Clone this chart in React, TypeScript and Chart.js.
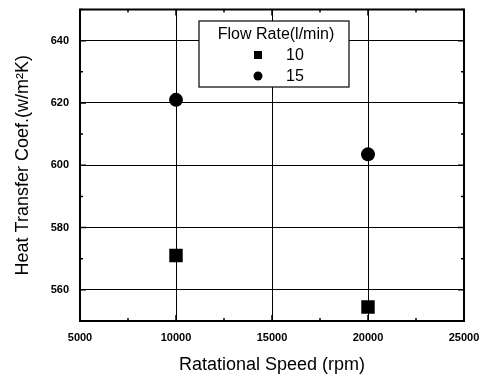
import React, { useEffect, useRef } from "react";
import { Chart, registerables } from "chart.js";

Chart.register(...registerables);

const legendTitle = "Flow Rate(l/min)";
const seriesLabels = ["10", "15"];
const speeds10 = [10000, 20000];
const values10 = [571, 554.5];
const speeds15 = [10000, 20000];
const values15 = [621, 603.5];
const xTitle = "Ratational Speed (rpm)";
const yTitle = "Heat Transfer Coef.(w/m\u00B2K)";

const FONT = "'Liberation Sans', Arial, sans-serif";

const innerTicks = {
  id: "innerTicks",
  afterDatasetsDraw(chart: any) {
    const { ctx, chartArea } = chart;
    const xs = chart.scales.x;
    const ys = chart.scales.y;
    ctx.save();
    ctx.strokeStyle = "#000";
    ctx.lineWidth = 1.5;
    for (let v = 5000; v <= 25000; v += 2500) {
      const px = xs.getPixelForValue(v);
      const len = v % 5000 === 0 ? 6 : 3;
      ctx.beginPath();
      ctx.moveTo(px, chartArea.bottom);
      ctx.lineTo(px, chartArea.bottom - len);
      ctx.moveTo(px, chartArea.top);
      ctx.lineTo(px, chartArea.top + len);
      ctx.stroke();
    }
    for (let v = 550; v <= 650; v += 10) {
      const py = ys.getPixelForValue(v);
      const len = v % 20 === 0 ? 6 : 3;
      ctx.beginPath();
      ctx.moveTo(chartArea.left, py);
      ctx.lineTo(chartArea.left + len, py);
      ctx.moveTo(chartArea.right, py);
      ctx.lineTo(chartArea.right - len, py);
      ctx.stroke();
    }
    ctx.lineWidth = 2;
    ctx.strokeRect(chartArea.left, chartArea.top, chartArea.right - chartArea.left, chartArea.bottom - chartArea.top);
    ctx.restore();
  },
};

const boxLegend = {
  id: "boxLegend",
  afterDraw(chart: any) {
    const { ctx } = chart;
    const x0 = 199, y0 = 21, w = 150, h = 66;
    ctx.save();
    ctx.fillStyle = "#fff";
    ctx.fillRect(x0, y0, w, h);
    ctx.strokeStyle = "#000";
    ctx.lineWidth = 1.2;
    ctx.strokeRect(x0, y0, w, h);
    ctx.fillStyle = "#000";
    ctx.font = `16px ${FONT}`;
    ctx.textBaseline = "middle";
    ctx.textAlign = "center";
    ctx.fillText(legendTitle, x0 + w / 2 + 2, y0 + 14);
    ctx.textAlign = "left";
    chart.data.datasets.forEach((ds: any, i: number) => {
      const cy = y0 + 34 + i * 21;
      const cx = 258;
      ctx.beginPath();
      if (ds.pointStyle === "rect") {
        ctx.rect(cx - 4, cy - 4, 8, 8);
      } else {
        ctx.arc(cx, cy, 4.5, 0, Math.PI * 2);
      }
      ctx.fill();
      ctx.fillText(ds.label, 286, cy + 1);
    });
    ctx.restore();
  },
};

export default function App() {
  const ref = useRef<HTMLCanvasElement>(null);
  useEffect(() => {
    document.body.style.margin = "0";
    const chart = new Chart(ref.current!, {
      type: "scatter",
      data: {
        datasets: [
          {
            label: seriesLabels[0],
            data: speeds10.map((x, i) => ({ x, y: values10[i] })),
            pointStyle: "rect",
            pointRadius: 9.5,
            backgroundColor: "#000",
            borderColor: "#000",
            borderWidth: 0,
          },
          {
            label: seriesLabels[1],
            data: speeds15.map((x, i) => ({ x, y: values15[i] })),
            pointStyle: "circle",
            pointRadius: 7,
            backgroundColor: "#000",
            borderColor: "#000",
            borderWidth: 0,
          },
        ],
      },
      options: {
        animation: false,
        responsive: false,
        layout: { padding: { top: 1, right: 21, left: 0, bottom: 0 } },
        plugins: { legend: { display: false }, tooltip: { enabled: false } },
        scales: {
          x: {
            type: "linear",
            min: 5000,
            max: 25000,
            afterFit: (s: any) => { s.height = 55; s.paddingLeft = 0; s.paddingRight = 0; },
            border: { display: true, color: "#000", width: 2 },
            grid: {
              color: (c: any) => (c.tick && c.tick.value % 5000 === 0 ? "#000" : "rgba(0,0,0,0)"),
              lineWidth: 1,
              drawTicks: false,
            },
            ticks: {
              stepSize: 5000,
              color: "#000",
              padding: 10,
              maxRotation: 0,
              callback: (v: any) => String(v),
              font: { family: FONT, size: 11, weight: "bold" },
            },
            title: {
              display: true,
              text: xTitle,
              color: "#000",
              padding: { top: 6, bottom: 0 },
              font: { family: FONT, size: 18 },
            },
          },
          y: {
            type: "linear",
            min: 550,
            max: 650,
            afterFit: (s: any) => { s.width = 80; s.paddingTop = 0; s.paddingBottom = 0; },
            border: { display: true, color: "#000", width: 2 },
            grid: {
              color: (c: any) => (c.tick && c.tick.value % 20 === 0 && c.tick.value !== 550 && c.tick.value !== 650 ? "#000" : "rgba(0,0,0,0)"),
              lineWidth: 1,
              drawTicks: false,
            },
            ticks: {
              stepSize: 10,
              color: "#000",
              padding: 11,
              callback: (v: any) => (Number(v) % 20 === 0 && v !== 550 && v !== 650 ? String(v) : ""),
              font: { family: FONT, size: 11, weight: "bold" },
            },
            title: {
              display: true,
              text: yTitle,
              color: "#000",
              padding: { top: 12, bottom: 0 },
              font: { family: FONT, size: 18 },
            },
          },
        },
      },
      plugins: [innerTicks, boxLegend],
    });
    return () => chart.destroy();
  }, []);
  return (
    <div style={{ width: 485, height: 376 }}>
      <canvas ref={ref} width={485} height={376} />
    </div>
  );
}
